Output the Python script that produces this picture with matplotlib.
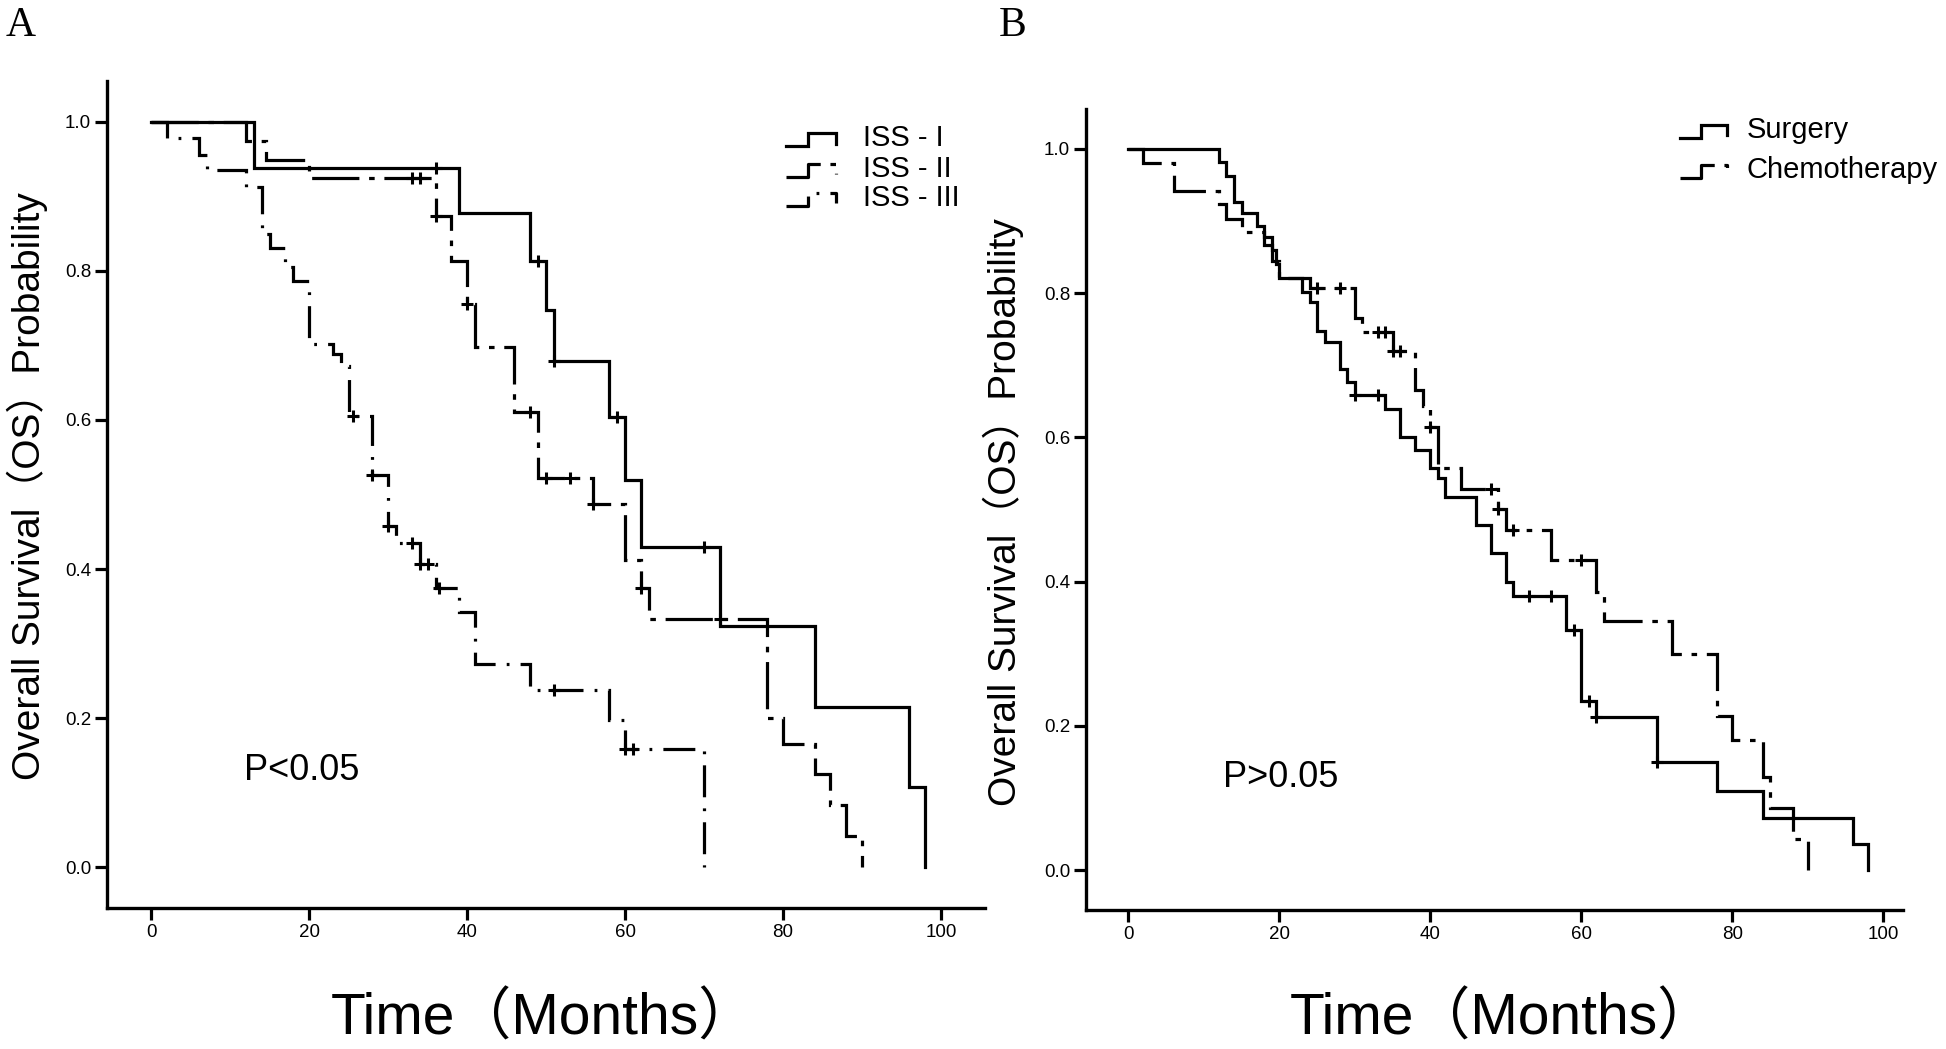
import matplotlib
matplotlib.use("Agg")
import matplotlib.pyplot as plt
import numpy as np

# Panel A: overall survival by ISS stage (step times in months, survival after each step)
iss1_t = [0, 13, 39, 48, 50, 51, 58, 60, 62, 72, 84, 96, 98]
iss1_s = [1.0, 0.938, 0.878, 0.814, 0.747, 0.679, 0.604, 0.519, 0.430, 0.323, 0.215, 0.107, 0.0]
iss1_cens = [36, 49, 51, 59, 70]

iss2_t = [0, 12, 14.5, 20, 36, 38, 40, 41, 46, 49, 56, 60, 62, 63, 78, 80, 84, 86, 88, 90]
iss2_s = [1.0, 0.975, 0.949, 0.925, 0.874, 0.814, 0.756, 0.698, 0.611, 0.522, 0.487,
          0.412, 0.374, 0.333, 0.200, 0.165, 0.125, 0.083, 0.042, 0.0]
iss2_cens = [33, 34, 36, 40, 48, 50, 53, 56, 62, 72]

iss3_t = [0, 2, 6, 7, 12, 14, 15, 17, 18, 20, 23, 24, 25, 28, 30, 31, 34, 36, 39, 41,
          48, 58, 60, 70]
iss3_s = [1.0, 0.978, 0.956, 0.935, 0.913, 0.849, 0.831, 0.805, 0.787, 0.702, 0.688,
          0.672, 0.606, 0.526, 0.458, 0.435, 0.407, 0.375, 0.342, 0.273, 0.238, 0.198,
          0.158, 0.0]
iss3_cens = [25.5, 28, 30, 33, 34, 35, 36.5, 51, 60, 61]

# Panel B: surgery vs chemotherapy
surg_t = [0, 12, 13, 14, 15, 17, 18, 19, 19.5, 20, 23, 24, 25, 26, 28, 29, 30, 34, 36,
          38, 40, 41, 42, 46, 48, 50, 51, 58, 60, 62, 70, 78, 84, 96, 98]
surg_s = [1.0, 0.982, 0.962, 0.926, 0.911, 0.893, 0.877, 0.860, 0.840, 0.821, 0.801,
          0.788, 0.748, 0.732, 0.695, 0.677, 0.659, 0.639, 0.600, 0.582, 0.558, 0.543,
          0.517, 0.479, 0.440, 0.399, 0.380, 0.333, 0.235, 0.213, 0.150, 0.110, 0.0725,
          0.036, 0.0]
surg_cens = [30, 33, 53, 56, 59, 61, 62, 70]

chemo_t = [0, 2, 6, 12, 13, 15, 18, 19, 20, 24, 30, 31, 35, 38, 39, 40, 41, 44, 49, 50,
           56, 62, 63, 72, 78, 80, 84, 85, 88, 90]
chemo_s = [1.0, 0.980, 0.941, 0.923, 0.903, 0.885, 0.866, 0.845, 0.821, 0.807, 0.765,
           0.746, 0.720, 0.666, 0.643, 0.615, 0.558, 0.529, 0.500, 0.471, 0.430, 0.386,
           0.345, 0.300, 0.214, 0.180, 0.130, 0.087, 0.043, 0.0]
chemo_cens = [25, 28, 33, 34, 35, 36, 40, 48, 49, 51, 60]

labels_a = ["ISS - I", "ISS - II", "ISS - III"]
labels_b = ["Surgery", "Chemotherapy"]

plt.rcParams["font.family"] = ["Liberation Sans", "Noto Sans CJK SC"]
plt.rcParams["lines.scale_dashes"] = False

SOLID = "-"
DASH_SHORT = (0, (34, 7, 4, 7))
DASH_DOT = (0, (23, 8, 2, 8))
LW = 2.3


def surv_at(t, s, x):
    idx = np.searchsorted(np.asarray(t), x, side="right") - 1
    return np.asarray(s)[idx]


def draw_km(ax, t, s, cens, ls):
    ax.step(t, s, where="post", color="black", lw=LW, linestyle=ls,
            solid_joinstyle="miter", dash_joinstyle="miter", dash_capstyle="butt")
    cy = surv_at(t, s, cens)
    ax.plot(cens, cy, linestyle="none", marker="+", ms=8, mew=2.2, color="black")


def style_axes(ax, xmax):
    ax.set_xlim(-5.6, xmax)
    ax.set_ylim(-0.055, 1.055)
    ax.set_xticks(np.arange(0, 101, 20))
    ax.set_yticks(np.arange(0, 1.01, 0.2))
    ax.set_yticklabels([f"{v:.1f}" for v in np.arange(0, 1.01, 0.2)])
    for side in ["top", "right"]:
        ax.spines[side].set_visible(False)
    for side in ["left", "bottom"]:
        ax.spines[side].set_linewidth(2.4)
    ax.tick_params(direction="out", length=8.5, width=2.3, labelsize=13.5, pad=3)


def legend_entry(ax, x0, y0, w, tx, ls, text, fs):
    # SPSS-style step glyph drawn in axes fraction coordinates
    h = 0.016
    xs = [x0, x0 + 0.45 * w, x0 + 0.45 * w, x0 + w, x0 + w]
    ys = [y0, y0, y0 + h, y0 + h, y0 + 0.2 * h]
    ax.plot(xs, ys, transform=ax.transAxes, color="black", lw=LW, linestyle=ls,
            solid_joinstyle="miter", dash_capstyle="butt", clip_on=False)
    ax.text(tx, y0, text, transform=ax.transAxes, fontsize=fs,
            va="baseline", ha="left")


fig = plt.figure(figsize=(19.46, 10.49), dpi=100)
ax_a = fig.add_axes([0.0550, 0.1344, 0.4512, 0.7884])
ax_b = fig.add_axes([0.5581, 0.1325, 0.4198, 0.7636])

draw_km(ax_a, iss1_t, iss1_s, iss1_cens, SOLID)
draw_km(ax_a, iss2_t, iss2_s, iss2_cens, DASH_SHORT)
draw_km(ax_a, iss3_t, iss3_s, iss3_cens, DASH_DOT)
style_axes(ax_a, 105.6)

draw_km(ax_b, surg_t, surg_s, surg_cens, SOLID)
draw_km(ax_b, chemo_t, chemo_s, chemo_cens, DASH_SHORT)
style_axes(ax_b, 102.6)

for lab, ls, yb in zip(labels_a, [SOLID, DASH_SHORT, DASH_DOT], [0.921, 0.884, 0.849]):
    legend_entry(ax_a, 0.773, yb, 0.057, 0.861, ls, lab, 21)
for lab, ls, yb in zip(labels_b, [SOLID, DASH_SHORT], [0.964, 0.914]):
    legend_entry(ax_b, 0.727, yb, 0.0575, 0.809, ls, lab, 21)

ax_a.text(11.8, 0.13, "P<0.05", fontsize=26, ha="left", va="center")
ax_b.text(12.5, 0.129, "P>0.05", fontsize=26, ha="left", va="center")

ylab = "Overall Survival（OS）Probability"
fig.text(0.0139, 0.537, ylab, rotation=90, fontsize=28, ha="center", va="center")
fig.text(0.5155, 0.512, ylab, rotation=90, fontsize=28, ha="center", va="center")
fig.text(0.279, 0.028, "Time（Months）", fontsize=41, ha="center", va="center")
fig.text(0.772, 0.028, "Time（Months）", fontsize=41, ha="center", va="center")

fig.text(0.003, 0.975, "A", fontsize=30, family="Liberation Serif", ha="left", va="center")
fig.text(0.513, 0.975, "B", fontsize=30, family="Liberation Serif", ha="left", va="center")

fig.savefig("out.png", dpi=100, facecolor="white")
